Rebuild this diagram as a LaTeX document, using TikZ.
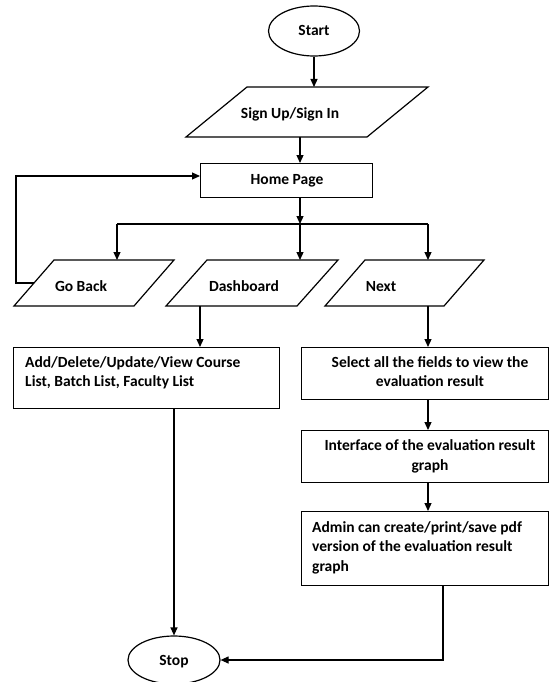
\documentclass[tikz,border=0pt]{standalone}
\usepackage{fontspec}
\setmainfont{Carlito}
\usetikzlibrary{shapes.geometric,arrows.meta}
\begin{document}
\begin{tikzpicture}[x=1pt,y=-1pt,
  lw/.style={line width=1.2pt},
  arr/.style={lw,-{Triangle[length=8pt,width=7pt]}},
  lbl/.style={font=\bfseries\fontsize{15.5}{19.5}\selectfont,inner sep=0pt},
  term/.style={draw,lw,ellipse,inner sep=0pt},
  box/.style={draw,lw,rectangle,inner sep=0pt,anchor=north west},
  para/.style={draw,lw,line join=miter}]
\useasboundingbox (0,0) rectangle (549,682);
\fill[white] (0,0) rectangle (549,682);

% terminals
\node[term,minimum width=91pt,minimum height=50pt] (start) at (314,31) {};
\node[lbl,anchor=base] (starttxt) at (314,36) {Start};
\node[term,minimum width=92pt,minimum height=48pt] (stop) at (174,660) {};
\node[lbl,anchor=base] (stoptxt) at (174,665) {Stop};

% Sign Up / Sign In
\draw[para] (247,87) -- (428,87) -- (367,137) -- (186,137) -- cycle;
\node[lbl,anchor=base] (signup) at (290,118) {Sign Up/Sign In};
\coordinate (signupT) at (314,87);
\coordinate (signupB) at (300,137);

% Home page
\node[box,minimum width=172pt,minimum height=34pt] (home) at (200,163) {};
\node[lbl,anchor=base] (hometxt) at (287,184) {Home Page};

% row of parallelograms
\draw[para] (54,260) -- (174,260) -- (134,306) -- (14,306) -- cycle;
\node[lbl,anchor=base] (goback) at (81,291) {Go Back};
\draw[para] (207,260) -- (338,260) -- (297,306) -- (166,306) -- cycle;
\node[lbl,anchor=base] (dash) at (244,291) {Dashboard};
\draw[para] (365,260) -- (484,260) -- (444,306) -- (325,306) -- cycle;
\node[lbl,anchor=base] (next) at (381,291) {Next};
\coordinate (gobackT) at (117,260);
\coordinate (gobackL) at (34,283);
\coordinate (dashT) at (300,260);
\coordinate (dashB) at (200,306);
\coordinate (nextT) at (428,260);
\coordinate (nextB) at (428,306);

% branch
\coordinate (br) at (300,224);
\coordinate (brL) at (117,224);
\coordinate (brR) at (428,224);

% boxes
\node[box,minimum width=266pt,minimum height=61pt] (add) at (13,347) {};
\node[lbl,anchor=base west,align=left] (addtxt) at (25,386.5) {Add/Delete/Update/View Course\\List, Batch List, Faculty List};
\node[box,minimum width=247pt,minimum height=52pt] (sel) at (301,347) {};
\node[lbl,anchor=base,align=center] (seltxt) at (430,386.5) {Select all the fields to view the\\evaluation result};
\node[box,minimum width=247pt,minimum height=52pt] (intf) at (301,430) {};
\node[lbl,anchor=base,align=center] (intftxt) at (430,470) {Interface of the evaluation result\\graph};
\node[box,minimum width=247pt,minimum height=74pt] (adm) at (301,511) {};
\node[lbl,anchor=base west,align=left] (admtxt) at (312,571) {Admin can create/print/save pdf\\version of the evaluation result\\graph};

% connectors
\draw[arr] (start.south) -- (signupT);
\draw[arr] (signupB) -- (signupB |- home.north);
\draw[arr] (br |- home.south) -- (br);
\draw[lw] (brL) -- (brR);
\draw[arr] (brL) -- (gobackT);
\draw[arr] (br) -- (dashT);
\draw[arr] (brR) -- (nextT);
\draw[arr] (gobackL) -- (16,283) -- (16,176) -- (home.west |- 0,176);
\draw[arr] (dashB) -- (dashB |- add.north);
\draw[arr] (nextB) -- (nextB |- sel.north);
\draw[arr] (nextB |- sel.south) -- (nextB |- intf.north);
\draw[arr] (nextB |- intf.south) -- (nextB |- adm.north);
\draw[arr] (stop.north |- add.south) -- (stop.north);
\draw[arr] (443,585) -- (443,660) -- (stop.east);
\end{tikzpicture}
\end{document}
